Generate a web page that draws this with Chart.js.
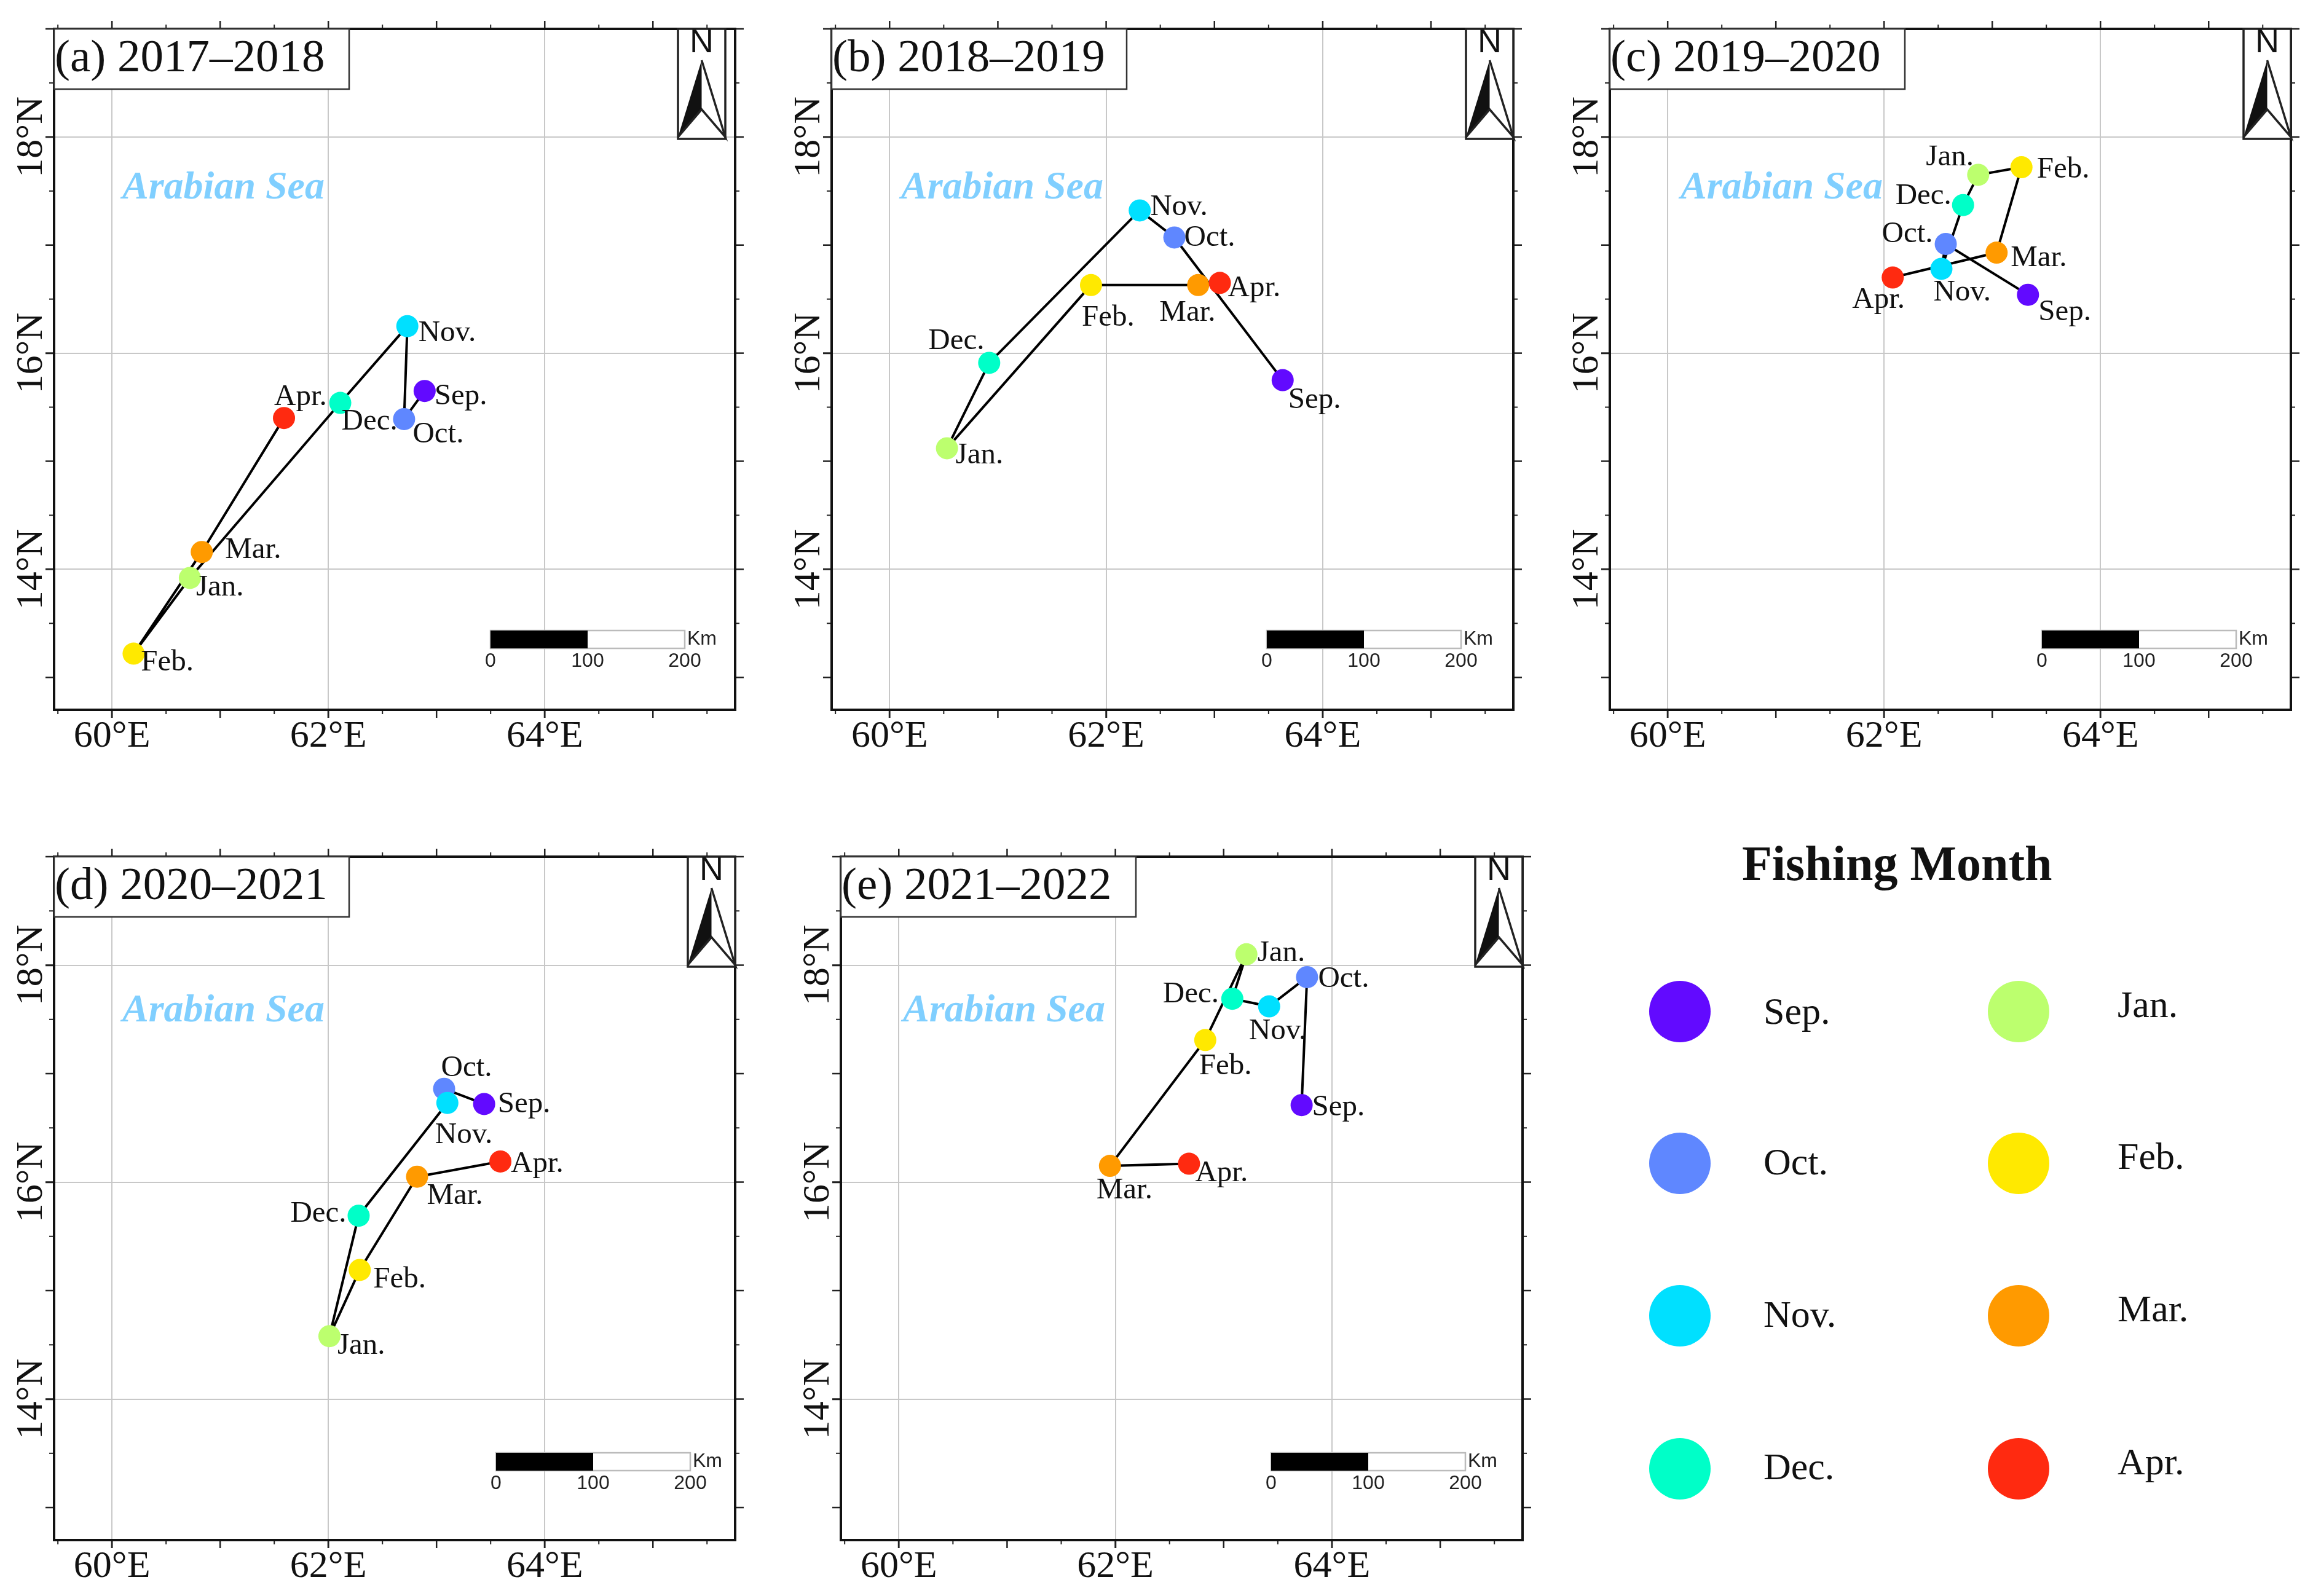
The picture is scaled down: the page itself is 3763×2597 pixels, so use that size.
<!DOCTYPE html>
<html>
<head>
<meta charset="utf-8">
<title>Fishing Month</title>
<script src="https://cdn.jsdelivr.net/npm/chart.js@4"></script>
<style>
  html, body { margin: 0; padding: 0; background: #fff; }
  body { position: relative; width: 3763px; height: 2597px; overflow: hidden; font-family: "Liberation Serif", serif; color: #111; }
  canvas { position: absolute; }
  .abs { position: absolute; white-space: nowrap; }
  .dot { position: absolute; width: 100px; height: 100px; border-radius: 50%; }
</style>
</head>
<body>
<script>
const months = ['Sep.', 'Oct.', 'Nov.', 'Dec.', 'Jan.', 'Feb.', 'Mar.', 'Apr.'];
const monthColors = ['#620aff', '#5f87ff', '#00e0ff', '#00ffc8', '#bcff6e', '#ffe900', '#ff9a00', '#ff2a10'];

// values, one pair of arrays per panel
const lonA = [62.89, 62.70, 62.73, 62.11, 60.72, 60.20, 60.83, 61.59];
const latA = [15.65, 15.39, 16.25, 15.54, 13.92, 13.22, 14.16, 15.40];
const lonB = [63.63, 62.63, 62.31, 60.92, 60.53, 61.86, 62.85, 63.05];
const latB = [15.75, 17.07, 17.32, 15.91, 15.12, 16.63, 16.63, 16.65];
const lonC = [63.33, 62.57, 62.53, 62.73, 62.87, 63.27, 63.04, 62.08];
const latC = [16.54, 17.01, 16.78, 17.37, 17.65, 17.72, 16.93, 16.70];
const lonD = [63.44, 63.07, 63.10, 62.28, 62.01, 62.29, 62.82, 63.59];
const latD = [16.72, 16.86, 16.73, 15.69, 14.58, 15.19, 16.05, 16.19];
const lonE = [63.72, 63.77, 63.42, 63.08, 63.21, 62.83, 61.95, 62.68];
const latE = [16.71, 17.89, 17.62, 17.69, 18.10, 17.31, 16.15, 16.17];

const lonTicks = [60, 62, 64];
const latTicks = [14, 16, 18];
const lonMajor = [60, 61, 62, 63, 64, 65];
const lonMinor = [59.5, 60.5, 61.5, 62.5, 63.5, 64.5, 65.5];
const latMajor = [13, 14, 15, 16, 17, 18, 19];
const latMinor = [13.5, 14.5, 15.5, 16.5, 17.5, 18.5];
const scaleLabels = ['0', '100', '200'];

// label placement next to each point, [dx, baseline dy] in px
const offsA = [[16, 22], [14, 38], [18, 24], [2, 43], [10, 29], [12, 27], [38, 10], [-16, -21]];
const offsB = [[9, 45], [16, 14], [17, 8], [-99, -22], [14, 25], [-15, 66], [-63, 58], [13, 22]];
const offsC = [[17, 41], [-104, -3], [-13, 52], [-110, -2], [-85, -15], [25, 17], [23, 22], [-66, 49]];
const offsD = [[22, 14], [-5, -21], [-20, 65], [-111, 10], [13, 29], [22, 29], [16, 44], [17, 17]];
const offsE = [[17, 17], [18, 16], [-33, 53], [-113, 6], [18, 11], [-10, 56], [-22, 53], [10, 28]];

const panels = [
  { title: '(a) 2017\u20132018', lon: lonA, lat: latA, offs: offsA, left: 88, top: 47, w: 1108, h: 1108, north: 16, bar: [710, 979], sea: [111, 276] },
  { title: '(b) 2018\u20132019', lon: lonB, lat: latB, offs: offsB, left: 1353, top: 47, w: 1109, h: 1108, north: 0, bar: [708, 979], sea: [113, 276] },
  { title: '(c) 2019\u20132020', lon: lonC, lat: latC, offs: offsC, left: 2619, top: 47, w: 1108, h: 1108, north: 0, bar: [703, 979], sea: [115, 276] },
  { title: '(d) 2020\u20132021', lon: lonD, lat: latD, offs: offsD, left: 88, top: 1394, w: 1108, h: 1112, north: 0, bar: [719, 970], sea: [111, 268] },
  { title: '(e) 2021\u20132022', lon: lonE, lat: latE, offs: offsE, left: 1368, top: 1394, w: 1109, h: 1112, north: 0, bar: [700, 970], sea: [101, 268] }
];

const SERIF = '"Liberation Serif"';
const SANS = '"Liberation Sans"';

const mapDecor = {
  id: 'mapDecor',
  afterDatasetsDraw(chart, args, opts) {
    const { ctx, chartArea: a, scales: { x, y } } = chart;
    const p = opts.panel;
    ctx.save();

    // ticks on all four sides
    ctx.strokeStyle = '#222';
    const tick = (x0, y0, x1, y1, w) => {
      ctx.lineWidth = w;
      ctx.beginPath(); ctx.moveTo(x0, y0); ctx.lineTo(x1, y1); ctx.stroke();
    };
    lonMajor.forEach(v => {
      const px = x.getPixelForValue(v);
      tick(px, a.top, px, a.top - 13, 2.5);
      tick(px, a.bottom, px, a.bottom + 13, 2.5);
    });
    lonMinor.forEach(v => {
      const px = x.getPixelForValue(v);
      tick(px, a.top, px, a.top - 7, 2);
      tick(px, a.bottom, px, a.bottom + 7, 2);
    });
    latMajor.forEach(v => {
      const py = y.getPixelForValue(v);
      tick(a.left, py, a.left - 14, py, 2.5);
      tick(a.right, py, a.right + 14, py, 2.5);
    });
    latMinor.forEach(v => {
      const py = y.getPixelForValue(v);
      tick(a.left, py, a.left - 8, py, 2);
      tick(a.right, py, a.right + 7, py, 2);
    });

    // frame
    ctx.lineWidth = 4;
    ctx.strokeStyle = '#111';
    ctx.strokeRect(a.left, a.top, a.right - a.left, a.bottom - a.top);

    // point labels
    ctx.fillStyle = '#111';
    ctx.font = `49px ${SERIF}`;
    ctx.textAlign = 'left';
    ctx.textBaseline = 'alphabetic';
    months.forEach((m, i) => {
      const px = x.getPixelForValue(p.lon[i]);
      const py = y.getPixelForValue(p.lat[i]);
      ctx.fillText(m, px + p.offs[i][0], py + p.offs[i][1]);
    });

    // title box
    ctx.fillStyle = '#fff';
    ctx.fillRect(a.left, a.top, 480, 98);
    ctx.strokeStyle = '#333';
    ctx.lineWidth = 2.5;
    ctx.strokeRect(a.left, a.top, 480, 98);
    ctx.fillStyle = '#111';
    ctx.font = `75px ${SERIF}`;
    ctx.fillText(p.title, a.left + 1, a.top + 69);

    // sea name
    ctx.fillStyle = '#80cfff';
    ctx.font = `italic bold 64px ${SERIF}`;
    ctx.fillText('Arabian Sea', a.left + p.sea[0], a.top + p.sea[1]);

    // north arrow
    const nw = 77, nh = 179;
    const nx = a.right - p.north - nw;
    const ny = a.top;
    const nc = nx + nw / 2;
    ctx.fillStyle = '#fff';
    ctx.fillRect(nx, ny, nw, nh);
    ctx.strokeStyle = '#222';
    ctx.lineWidth = 3.5;
    ctx.strokeRect(nx, ny, nw, nh);
    ctx.fillStyle = '#111';
    ctx.font = `54px ${SANS}`;
    ctx.textAlign = 'center';
    ctx.fillText('N', nc, ny + 38);
    ctx.beginPath();
    ctx.moveTo(nc, ny + 51); ctx.lineTo(nx, ny + 176); ctx.lineTo(nc, ny + 131);
    ctx.closePath(); ctx.fill();
    ctx.lineWidth = 3.5;
    ctx.lineJoin = 'miter';
    ctx.beginPath();
    ctx.moveTo(nc, ny + 51); ctx.lineTo(nx + nw, ny + 176); ctx.lineTo(nc, ny + 131); ctx.lineTo(nx, ny + 176);
    ctx.stroke();

    // scale bar
    const bx = a.left + p.bar[0];
    const by = a.top + p.bar[1];
    const seg = 158;
    ctx.fillStyle = '#fff';
    ctx.fillRect(bx, by, seg * 2, 29);
    ctx.strokeStyle = '#bbb';
    ctx.lineWidth = 2.5;
    ctx.strokeRect(bx, by, seg * 2, 29);
    ctx.fillStyle = '#000';
    ctx.fillRect(bx, by, seg, 29);
    ctx.fillStyle = '#222';
    ctx.font = `32px ${SANS}`;
    ctx.textAlign = 'center';
    scaleLabels.forEach((t, i) => ctx.fillText(t, bx + seg * i, by + 59));
    ctx.textAlign = 'left';
    ctx.fillText('Km', bx + seg * 2 + 4, by + 23);

    ctx.restore();
  }
};

const MARGIN_L = 88, MARGIN_T = 47, MARGIN_R = 30, MARGIN_B = 92;

panels.forEach(p => {
  const cv = document.createElement('canvas');
  cv.width = MARGIN_L + p.w + MARGIN_R;
  cv.height = MARGIN_T + p.h + MARGIN_B;
  cv.style.left = (p.left - MARGIN_L) + 'px';
  cv.style.top = (p.top - MARGIN_T) + 'px';
  cv.style.width = cv.width + 'px';
  cv.style.height = cv.height + 'px';
  document.body.appendChild(cv);

  new Chart(cv.getContext('2d'), {
    type: 'scatter',
    data: {
      datasets: [{
        data: p.lon.map((v, i) => ({ x: v, y: p.lat[i] })),
        showLine: true,
        tension: 0,
        borderColor: '#000',
        borderWidth: 4,
        pointRadius: 18,
        pointHoverRadius: 18,
        pointBorderWidth: 0,
        pointBackgroundColor: monthColors
      }]
    },
    options: {
      responsive: false,
      animation: false,
      devicePixelRatio: 1,
      layout: { padding: { left: 0, top: MARGIN_T, right: MARGIN_R, bottom: 0 } },
      plugins: { legend: { display: false }, tooltip: { enabled: false }, mapDecor: { panel: p } },
      scales: {
        x: {
          type: 'linear', min: 59.465, max: 65.76,
          afterBuildTicks: s => { s.ticks = lonTicks.map(value => ({ value })); },
          afterFit: s => { s.height = MARGIN_B; },
          grid: { color: '#c8c8c8', lineWidth: 2, tickColor: '#222', tickWidth: 2.5, tickLength: 13 },
          border: { display: false },
          ticks: {
            autoSkip: false, maxRotation: 0, minRotation: 0, padding: -6, color: '#111',
            font: { family: SERIF, size: 62 },
            callback: v => v + '\u00b0E'
          }
        },
        y: {
          type: 'linear', min: 12.7, max: 19,
          afterBuildTicks: s => { s.ticks = latTicks.map(value => ({ value })); },
          afterFit: s => { s.width = MARGIN_L; },
          grid: { color: '#c8c8c8', lineWidth: 2, tickColor: '#222', tickWidth: 2.5, tickLength: 14 },
          border: { display: false },
          ticks: {
            autoSkip: false, minRotation: 90, maxRotation: 90, crossAlign: 'center', padding: -44, color: '#111',
            font: { family: SERIF, size: 62 },
            callback: v => v + '\u00b0N'
          }
        }
      }
    },
    plugins: [mapDecor]
  });
});

// legend
function addText(txt, x, baseline, size, weight) {
  const d = document.createElement('div');
  d.className = 'abs';
  d.textContent = txt;
  d.style.left = x + 'px';
  d.style.top = (baseline - size) + 'px';
  d.style.font = `${weight} ${size}px/${size * 1.14}px ${SERIF}`;
  document.body.appendChild(d);
}
addText('Fishing Month', 2834, 1440, 80, 'bold');
const legendDotX = [2683, 3234];
const legendDotY = [1596, 1843, 2091, 2340];
const legendTextX = [2869, 3445];
const legendBaseY = [[1672, 1917, 2165, 2413], [1661, 1908, 2156, 2405]];
months.forEach((m, i) => {
  const col = i < 4 ? 0 : 1;
  const row = i % 4;
  const dot = document.createElement('div');
  dot.className = 'dot';
  dot.style.left = legendDotX[col] + 'px';
  dot.style.top = legendDotY[row] + 'px';
  dot.style.background = monthColors[i];
  document.body.appendChild(dot);
  addText(m, legendTextX[col], legendBaseY[col][row], 62, 'normal');
});
</script>
</body>
</html>
